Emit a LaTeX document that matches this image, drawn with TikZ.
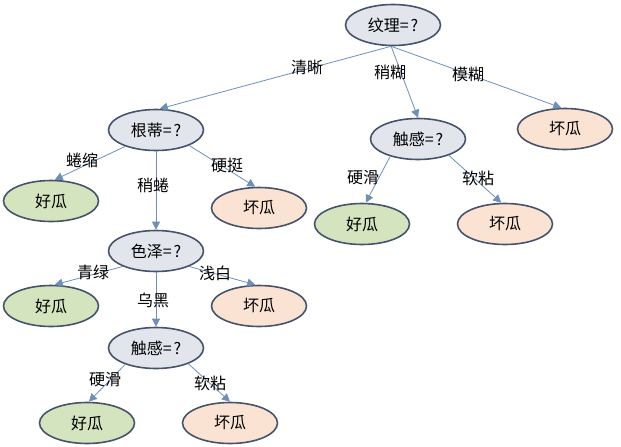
\documentclass[tikz,border=0pt]{standalone}
\usepackage{fontspec}
\setmainfont{Noto Sans CJK SC}
\usetikzlibrary{shapes.geometric,arrows.meta}
\definecolor{qfill}{HTML}{E2E5EC}
\definecolor{gfill}{HTML}{D3E4BE}
\definecolor{bfill}{HTML}{FBE3D3}
\definecolor{bord}{HTML}{46536A}
\definecolor{edgec}{HTML}{6E90B8}
\tikzset{
  base/.style={ellipse, draw=bord, line width=1.6pt, minimum width=95pt, minimum height=41pt, inner sep=0pt, font=\fontsize{16}{19}\selectfont},
  qnode/.style={base, fill=qfill},
  gnode/.style={base, fill=gfill},
  bnode/.style={base, fill=bfill},
  edge/.style={draw=edgec, line width=0.8pt, -{Triangle[length=8pt,width=8pt]}},
  lab/.style={font=\fontsize{16}{19}\selectfont, inner sep=1pt}
}
\begin{document}
\begin{tikzpicture}[x=1pt,y=-1pt]
\useasboundingbox (0,0) rectangle (621,447);
% nodes
\node[qnode] (root) at (393,25) {纹理=\kern2pt?};
\node[qnode] (gd) at (156,130) {根蒂=\kern2pt?};
\node[qnode] (ch1) at (418,139) {触感=\kern2pt?};
\node[bnode] (bad1) at (565,129) {坏瓜};
\node[gnode] (good1) at (51,201) {好瓜};
\node[bnode] (bad2) at (259,208) {坏瓜};
\node[gnode] (good4) at (362,224) {好瓜};
\node[bnode] (bad5) at (505,224) {坏瓜};
\node[qnode] (sz) at (156,251) {色泽=\kern2pt?};
\node[gnode] (good2) at (51,306) {好瓜};
\node[bnode] (bad3) at (259,306) {坏瓜};
\node[qnode] (ch2) at (156,348) {触感=\kern2pt?};
\node[gnode] (good3) at (87,423) {好瓜};
\node[bnode] (bad4) at (230,423) {坏瓜};
% edges
\draw[edge] (root.265) -- (gd.80);
\draw[edge] (root.265) -- (ch1.north);
\draw[edge] (root.265) -- (bad1.100);
\draw[edge] (gd.208) -- (good1.80);
\draw[edge] (gd.south) -- (sz.north);
\draw[edge] (gd.-25) -- (bad2.100);
\draw[edge] (ch1.212) -- (good4.80);
\draw[edge] (ch1.-28) -- (bad5.100);
\draw[edge] (sz.205) -- (good2.80);
\draw[edge] (sz.south) -- (ch2.north);
\draw[edge] (sz.-25) -- (bad3.100);
\draw[edge] (ch2.208) -- (good3.85);
\draw[edge] (ch2.-26) -- (bad4.north);
% labels
\node[lab] (l1) at (307,67) {清晰};
\node[lab] (l2) at (390,73) {稍糊};
\node[lab] (l3) at (468,75) {模糊};
\node[lab] (l4) at (82,160) {蜷缩};
\node[lab] (l5) at (153,185) {稍蜷};
\node[lab] (l6) at (227,165) {硬挺};
\node[lab] (l7) at (363,178) {硬滑};
\node[lab] (l8) at (478,178) {软粘};
\node[lab] (l9) at (93,272) {青绿};
\node[lab] (l10) at (215,273) {浅白};
\node[lab] (l11) at (153,300) {乌黑};
\node[lab] (l12) at (105,380) {硬滑};
\node[lab] (l13) at (210,383) {软粘};
\end{tikzpicture}
\end{document}
